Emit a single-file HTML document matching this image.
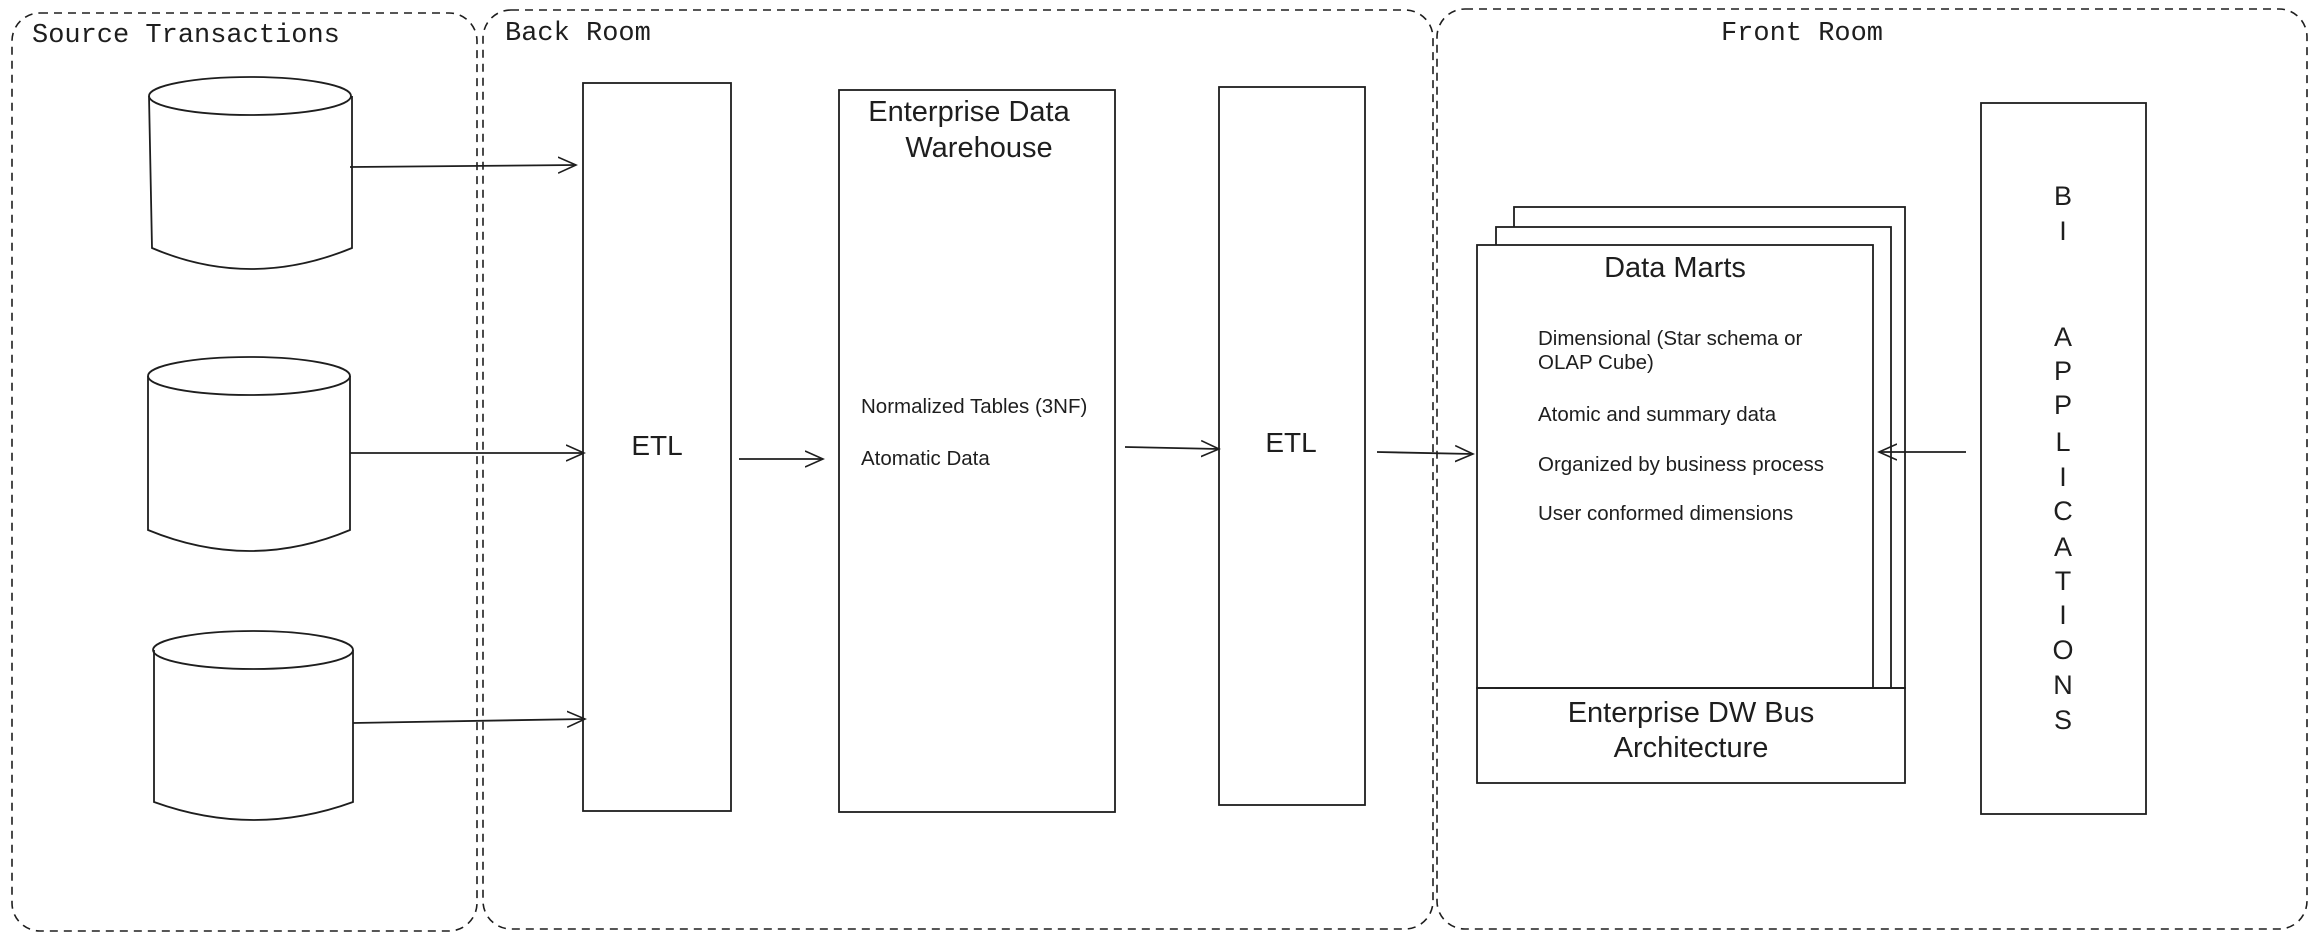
<!DOCTYPE html>
<html><head><meta charset="utf-8"><style>
html,body{margin:0;padding:0;background:#fff;}
svg{display:block;}
.m{font-family:"Liberation Mono",monospace;font-size:27px;fill:#1e1e1e;}
.h{font-family:"Liberation Sans",sans-serif;fill:#1e1e1e;}
</style></head><body>
<svg width="2316" height="943" viewBox="0 0 2316 943" xmlns="http://www.w3.org/2000/svg">
<defs>
<marker id="a" markerWidth="20" markerHeight="20" refX="18" refY="10" orient="auto" markerUnits="userSpaceOnUse">
<path d="M0,2 L18,10 L0,18" fill="none" stroke="#1e1e1e" stroke-width="1.6"/>
</marker>
</defs>
<g fill="none" stroke="#1e1e1e" stroke-width="1.6" stroke-dasharray="8,6">
<rect x="12" y="13" width="465" height="918" rx="28"/>
<rect x="483" y="10" width="950" height="919" rx="28"/>
<rect x="1437" y="9" width="870" height="920" rx="28"/>
</g>
<text class="m" x="32" y="42">Source Transactions</text>
<text class="m" x="505" y="40">Back Room</text>
<text class="m" x="1802" y="40" text-anchor="middle">Front Room</text>

<g fill="none" stroke="#1e1e1e" stroke-width="1.8">
<path d="M149,96 L152,248 Q250,290 352,248 L352,96"/><ellipse cx="250" cy="96" rx="101" ry="19"/>
<path d="M148,376 L148,530 Q250,572 350,530 L350,376"/><ellipse cx="249" cy="376" rx="101" ry="19"/>
<path d="M154,650 L154,802 Q254,838 353,802 L353,650"/><ellipse cx="253" cy="650" rx="100" ry="19"/>
<path d="M350,167 L576,165" marker-end="url(#a)"/>
<path d="M350,453 L584,453" marker-end="url(#a)"/>
<path d="M353,723 L585,719" marker-end="url(#a)"/>
<path d="M739,459 L823,459" marker-end="url(#a)"/>
<path d="M1125,447 L1219,449" marker-end="url(#a)"/>
<path d="M1377,452 L1473,454" marker-end="url(#a)"/>
<rect x="583" y="83" width="148" height="728"/>
<rect x="839" y="90" width="276" height="722"/>
<rect x="1219" y="87" width="146" height="718"/>
<rect x="1514" y="207" width="391" height="481"/>
<rect x="1496" y="227" width="395" height="461" fill="#fff"/>
<rect x="1477" y="245" width="396" height="443" fill="#fff"/>
<rect x="1477" y="688" width="428" height="95"/>
<rect x="1981" y="103" width="165" height="711"/>
<path d="M1966,452 L1879,452" marker-end="url(#a)"/>
</g>
<g class="h">
<text x="657" y="455" font-size="28" text-anchor="middle">ETL</text>
<text x="1291" y="452" font-size="28" text-anchor="middle">ETL</text>
<text x="969" y="121" font-size="29" text-anchor="middle">Enterprise Data</text>
<text x="979" y="157" font-size="29" text-anchor="middle">Warehouse</text>
<text x="861" y="413" font-size="20.5">Normalized Tables (3NF)</text>
<text x="861" y="465" font-size="20.5">Atomatic Data</text>
<text x="1675" y="277" font-size="29" text-anchor="middle">Data Marts</text>
<text x="1538" y="345" font-size="20.5">Dimensional (Star schema or</text>
<text x="1538" y="369" font-size="20.5">OLAP Cube)</text>
<text x="1538" y="421" font-size="20.5">Atomic and summary data</text>
<text x="1538" y="471" font-size="20.5">Organized by business process</text>
<text x="1538" y="520" font-size="20.5">User conformed dimensions</text>
<text x="1691" y="722" font-size="29" text-anchor="middle">Enterprise DW Bus</text>
<text x="1691" y="757" font-size="29" text-anchor="middle">Architecture</text>
<g font-size="27" text-anchor="middle">
<text x="2063" y="205">B</text><text x="2063" y="240">I</text>
<text x="2063" y="346">A</text><text x="2063" y="380">P</text><text x="2063" y="414">P</text>
<text x="2063" y="451">L</text><text x="2063" y="486">I</text><text x="2063" y="520">C</text>
<text x="2063" y="556">A</text><text x="2063" y="590">T</text><text x="2063" y="624">I</text>
<text x="2063" y="659">O</text><text x="2063" y="694">N</text><text x="2063" y="729">S</text>
</g>
</g>
</svg>
</body></html>
